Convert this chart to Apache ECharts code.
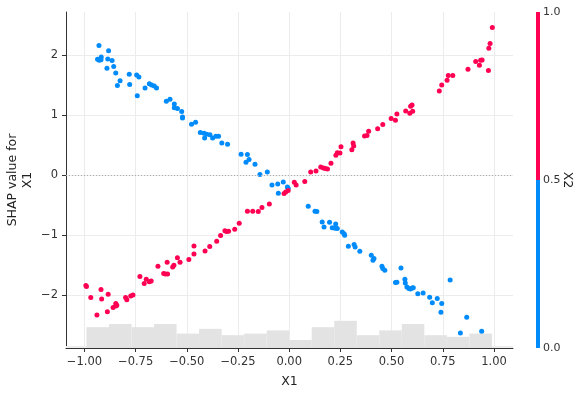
<!DOCTYPE html>
<html><head><meta charset="utf-8">
<script src="https://cdn.jsdelivr.net/npm/echarts@6/dist/echarts.min.js"></script>
<style>html,body{margin:0;padding:0;background:#fff}#c{width:586px;height:394px}</style>
</head><body><div id="c"></div>
<script>
// X2 = 0 (blue) points
const blueX1 = [-0.929,-0.936,-0.928,-0.918,-0.919,-0.882,-0.886,-0.865,-0.890,-0.857,-0.847,-0.826,-0.839,-0.781,-0.779,-0.745,-0.734,-0.742,-0.704,-0.683,-0.672,-0.659,-0.648,-0.600,-0.582,-0.561,-0.561,-0.546,-0.525,-0.521,-0.521,-0.477,-0.457,-0.434,-0.416,-0.413,-0.403,-0.387,-0.374,-0.358,-0.345,-0.329,-0.301,-0.235,-0.204,-0.211,-0.196,-0.167,-0.143,-0.107,-0.084,-0.056,-0.053,-0.029,-0.009,-0.005,0.093,0.126,0.135,0.161,0.197,0.170,0.227,0.210,0.224,0.235,0.259,0.268,0.271,0.289,0.317,0.322,0.345,0.401,0.414,0.409,0.453,0.457,0.467,0.519,0.526,0.546,0.565,0.567,0.575,0.584,0.592,0.601,0.606,0.628,0.654,0.686,0.699,0.723,0.745,0.741,0.786,0.836,0.867,0.940];
const blueShap = [2.162,1.933,1.917,1.972,1.928,2.078,1.938,1.912,1.783,1.812,1.705,1.578,1.495,1.683,1.512,1.672,1.638,1.328,1.455,1.528,1.505,1.488,1.455,1.233,1.267,1.188,1.128,1.112,1.062,0.972,0.955,0.850,0.883,0.712,0.700,0.622,0.683,0.678,0.622,0.650,0.650,0.538,0.517,0.350,0.345,0.217,0.262,0.183,0.012,0.055,-0.162,-0.145,-0.300,-0.112,-0.195,-0.217,-0.517,-0.600,-0.605,-0.778,-0.783,-0.862,-0.812,-0.872,-0.883,-0.888,-0.945,-0.972,-1.000,-1.183,-1.155,-1.195,-1.267,-1.333,-1.388,-1.417,-1.517,-1.555,-1.583,-1.788,-1.783,-1.545,-1.733,-1.795,-1.862,-1.888,-1.895,-1.878,-1.872,-1.972,-1.962,-2.033,-2.122,-2.055,-2.138,-2.283,-1.745,-2.628,-2.367,-2.600];
// X2 = 1 (red) points
const redX1 = [-0.993,-0.990,-0.969,-0.939,-0.919,-0.916,-0.888,-0.884,-0.860,-0.847,-0.846,-0.842,-0.799,-0.793,-0.774,-0.763,-0.729,-0.708,-0.698,-0.683,-0.674,-0.641,-0.613,-0.605,-0.594,-0.596,-0.569,-0.563,-0.546,-0.533,-0.490,-0.465,-0.465,-0.411,-0.388,-0.354,-0.335,-0.314,-0.306,-0.296,-0.266,-0.244,-0.204,-0.178,-0.151,-0.133,-0.097,-0.025,-0.017,-0.005,0.025,0.034,0.076,0.105,0.131,0.154,0.167,0.177,0.187,0.204,0.228,0.235,0.248,0.253,0.306,0.312,0.315,0.368,0.380,0.388,0.432,0.457,0.498,0.519,0.526,0.569,0.589,0.593,0.600,0.603,0.733,0.745,0.771,0.777,0.799,0.873,0.911,0.929,0.935,0.942,0.973,0.975,0.981,0.992];
const redShap = [-1.838,-1.855,-2.038,-2.328,-1.905,-2.062,-2.272,-1.983,-2.205,-2.138,-2.178,-2.167,-2.038,-2.072,-2.012,-1.995,-1.688,-1.805,-1.733,-1.772,-1.762,-1.517,-1.638,-1.645,-1.645,-1.450,-1.528,-1.500,-1.372,-1.450,-1.405,-1.178,-1.312,-1.262,-1.188,-1.100,-1.005,-0.922,-0.938,-0.933,-0.900,-0.800,-0.600,-0.600,-0.605,-0.538,-0.478,-0.305,-0.278,-0.255,-0.117,-0.162,-0.105,0.055,0.072,0.138,0.122,0.112,0.105,0.200,0.333,0.378,0.372,0.478,0.428,0.538,0.488,0.655,0.662,0.733,0.778,0.845,0.945,0.917,1.022,1.072,1.033,1.150,1.172,1.067,1.405,1.505,1.583,1.662,1.662,1.767,1.895,1.833,1.917,1.922,1.745,2.117,2.195,2.462];
// histogram of X1 (18 bins between histMin and histMax)
const histCounts = [13,15,13,15,9,12,8,9,11,5,13,17,8,11,15,8,7,9];
const histMin = -0.99, histMax = 0.99;
const xTickValues = [-1,-0.75,-0.5,-0.25,0,0.25,0.5,0.75,1];
const yTickValues = [-2,-1,0,1,2];
const colorbarTicks = [0,0.5,1];
const colorbarParts = [0.5,0.5];

const FONT = 'DejaVu Sans';
const BLUE = '#008bfb', RED = '#ff0052';
const nb = histCounts.length, bw = (histMax - histMin) / nb;
const histData = histCounts.map((c, i) => [histMin + i * bw, histMin + (i + 1) * bw, c]);
const minus = v => (v < 0 ? '\u2212' : '') + Math.abs(v);

const chart = echarts.init(document.getElementById('c'), null, {renderer: 'canvas'});
chart.setOption({
  animation: false,
  backgroundColor: '#fff',
  textStyle: {fontFamily: FONT},
  grid: [
    {left: 66, top: 12, right: 73, bottom: 46, containLabel: false, outerBoundsMode: 'none'},
    {left: 536, top: 12, width: 4, height: 336, containLabel: false, outerBoundsMode: 'none'}
  ],
  xAxis: [
    {type: 'value', gridIndex: 0, min: -1.09, max: 1.093,
     name: 'X1', nameLocation: 'middle', nameGap: 27, nameMoveOverlap: false,
     nameTextStyle: {fontFamily: FONT, fontSize: 12.5, color: '#222'},
     axisLine: {show: true, onZero: false, lineStyle: {color: '#333', width: 1}},
     axisTick: {show: true, length: 4, inside: false, customValues: xTickValues, lineStyle: {color: '#333'}},
     axisLabel: {customValues: xTickValues, margin: 8, fontFamily: FONT, fontSize: 11.5, color: '#333',
                 formatter: v => (v < 0 ? '\u2212' : '') + Math.abs(v).toFixed(2)},
     splitLine: {show: true, lineStyle: {color: '#ececec', width: 1}}},
    {type: 'category', gridIndex: 1, data: ['X2'], show: false}
  ],
  yAxis: [
    {type: 'value', gridIndex: 0, min: -2.878, max: 2.722,
     name: 'SHAP value for\nX1', nameLocation: 'middle', nameRotate: 90, nameGap: 31, nameMoveOverlap: false,
     nameTextStyle: {fontFamily: FONT, fontSize: 12.5, color: '#222', lineHeight: 15, align: 'center'},
     axisLine: {show: true, onZero: false, lineStyle: {color: '#333', width: 1}},
     axisTick: {show: true, length: 4, customValues: yTickValues, lineStyle: {color: '#333'}},
     axisLabel: {customValues: yTickValues, margin: 8, fontFamily: FONT, fontSize: 11.5, color: '#333', formatter: minus},
     splitLine: {show: true, lineStyle: {color: '#ececec', width: 1}}},
    {type: 'value', gridIndex: 0, min: 0, max: 210, show: false, splitLine: {show: false}},
    {type: 'value', gridIndex: 1, min: 0, max: 1, position: 'right',
     name: 'X2', nameLocation: 'middle', nameRotate: -90, nameGap: 21, nameMoveOverlap: false,
     nameTextStyle: {fontFamily: FONT, fontSize: 12.5, color: '#222'},
     axisLine: {show: false}, axisTick: {show: false, customValues: colorbarTicks},
     axisLabel: {customValues: colorbarTicks, margin: 3, fontFamily: FONT, fontSize: 11, color: '#333', formatter: v => v.toFixed(1)},
     splitLine: {show: false}}
  ],
  series: [
    {type: 'custom', xAxisIndex: 0, yAxisIndex: 1, z: 1, silent: true,
     data: histData, encode: {x: [0, 1], y: 2},
     renderItem: (params, api) => {
       const p0 = api.coord([api.value(0), api.value(2)]);
       const p1 = api.coord([api.value(1), 0]);
       return {type: 'rect', shape: {x: p0[0], y: p0[1], width: p1[0] - p0[0], height: p1[1] - p0[1]},
               style: {fill: '#e3e3e3', stroke: null}};
     },
     markArea: {silent: true, itemStyle: {color: '#eeeeee'},
       data: [[{coord: [-1.09, 0]}, {coord: [1.093, 1.2]}]]}
    },
    {type: 'scatter', xAxisIndex: 0, yAxisIndex: 0, z: 3, symbolSize: 5,
     itemStyle: {color: BLUE, opacity: 1},
     data: blueX1.map((x, i) => [x, blueShap[i]]),
     markLine: {silent: true, symbol: 'none', label: {show: false},
       lineStyle: {color: '#aaaaaa', type: [1, 2], width: 1}, data: [{yAxis: 0}]}},
    {type: 'scatter', xAxisIndex: 0, yAxisIndex: 0, z: 3, symbolSize: 5,
     itemStyle: {color: RED, opacity: 1},
     data: redX1.map((x, i) => [x, redShap[i]])},
    {type: 'bar', xAxisIndex: 1, yAxisIndex: 2, stack: 'cb', barWidth: '100%', silent: true,
     itemStyle: {color: BLUE}, data: [colorbarParts[0]]},
    {type: 'bar', xAxisIndex: 1, yAxisIndex: 2, stack: 'cb', barWidth: '100%', silent: true,
     itemStyle: {color: RED}, data: [colorbarParts[1]]}
  ]
});
</script></body></html>
